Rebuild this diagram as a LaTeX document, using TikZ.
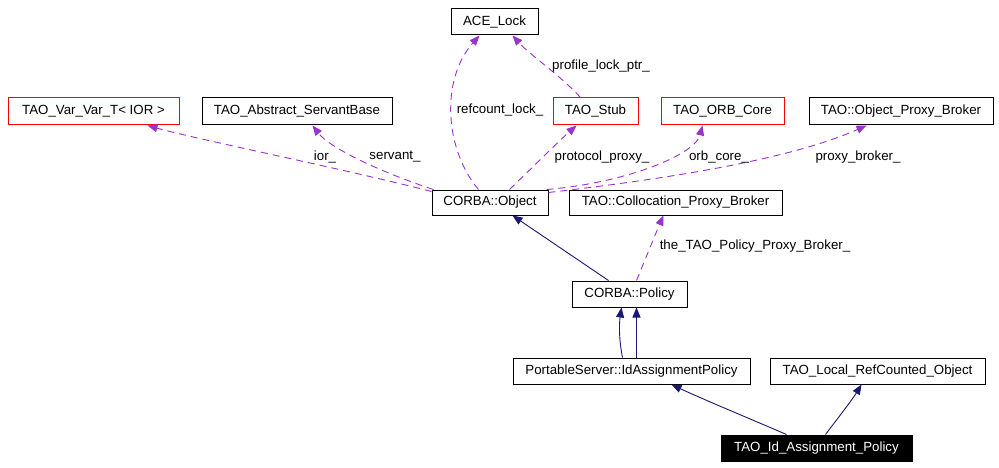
\documentclass[tikz,border=0pt]{standalone}
\usepackage{fontspec}
\setmainfont{Liberation Sans}
\usetikzlibrary{arrows.meta,calc}
\definecolor{edgepurple}{HTML}{9A32CD}
\definecolor{edgenavy}{HTML}{191970}
\begin{document}
\begin{tikzpicture}[x=1pt,y=-1pt,
  every node/.style={font=\fontsize{13.3}{16}\selectfont},
  box/.style={draw=black,line width=1pt,minimum height=26pt,inner sep=0pt,anchor=center},
  redbox/.style={box,draw=red},
  darkbox/.style={box,fill=black,text=white},
  usage/.style={draw=edgepurple,line width=0.9pt,dash pattern=on 7pt off 5pt,
     -{Triangle[length=10pt,width=8pt,fill=edgepurple]}},
  inherit/.style={draw=edgenavy,line width=0.9pt,
     -{Triangle[length=10pt,width=8pt,fill=edgenavy]}},
  elabel/.style={inner sep=0pt,anchor=center}]
\useasboundingbox[fill=white] (0,0) rectangle (999,468);
% nodes
\node[box,minimum width=87pt] (ace) at (494.5,22) {ACE\_Lock};
\node[redbox,minimum width=171pt,minimum height=27pt] (var) at (93.5,111.5) {TAO\_Var\_Var\_T< IOR >};
\node[box,minimum width=190pt,minimum height=27pt] (asb) at (297,111.5) {TAO\_Abstract\_ServantBase};
\node[redbox,minimum width=85pt,minimum height=27pt] (stub) at (595.5,111.5) {TAO\_Stub};
\node[redbox,minimum width=123pt,minimum height=27pt] (orb) at (722.5,111.5) {TAO\_ORB\_Core};
\node[box,minimum width=184pt,minimum height=27pt] (opb) at (901,111.5) {TAO::Object\_Proxy\_Broker};
\node[box,minimum width=116pt,minimum height=25pt] (obj) at (490,202.5) {CORBA::Object};
\node[box,minimum width=213pt,minimum height=25pt] (cpb) at (675.5,202.5) {TAO::Collocation\_Proxy\_Broker};
\node[box,minimum width=115pt] (pol) at (629.5,294) {CORBA::Policy};
\node[box,minimum width=237pt] (psia) at (631.5,371) {PortableServer::IdAssignmentPolicy};
\node[box,minimum width=215pt] (lrc) at (877.5,371) {TAO\_Local\_RefCounted\_Object};
\node[darkbox,minimum width=191pt] (tid) at (816.5,448) {TAO\_Id\_Assignment\_Policy};
% usage edges
\draw[usage] ($(obj.north west)+(0,2)$) .. controls (340,168) and (200,140) .. ($(var.south west)+(140,0)$);
\draw[usage] ($(obj.north west)+(2,0)$) .. controls (380,172) and (330,148) .. ($(asb.south west)+(111,0)$);
\draw[usage] ($(obj.north west)+(47,0)$) .. controls (445,150) and (440,80) .. ($(ace.south west)+(29,0)$);
\draw[usage] ($(stub.north west)+(28,0)$) .. controls (560,75) and (530,55) .. ($(ace.south west)+(62,0)$);
\draw[usage] ($(obj.north west)+(78,0)$) .. controls (535,165) and (560,140) .. ($(stub.south west)+(24,0)$);
\draw[usage] ($(obj.north east)+(-2,0)$) .. controls (625,183) and (695,155) .. ($(orb.south west)+(42,0)$);
\draw[usage] ($(obj.north east)+(0,3)$) .. controls (700,175) and (800,155) .. ($(opb.south west)+(58,0)$);
\draw[usage] ($(pol.north west)+(65,0)$) .. controls (645,260) and (655,235) .. ($(cpb.south west)+(95,0)$);
% inheritance edges
\draw[inherit] ($(pol.north west)+(37,0)$) -- ($(obj.south west)+(81,0)$);
\draw[inherit] ($(psia.north west)+(110,0)$) .. controls (619,340) and (619,325) .. ($(pol.south west)+(50,0)$);
\draw[inherit] ($(psia.north west)+(124,0)$) -- ($(pol.south west)+(65,0)$);
\draw[inherit] ($(tid.north west)+(66,0)$) .. controls (760,423) and (700,398) .. ($(psia.south west)+(159,0)$);
\draw[inherit] ($(tid.north west)+(105,0)$) .. controls (838,418) and (852,400) .. ($(lrc.south west)+(92,0)$);
% labels
\node[elabel] (lior) at (325,157) {ior\_};
\node[elabel] (lserv) at (395,157) {servant\_};
\node[elabel] (lref) at (500,110) {refcount\_lock\_};
\node[elabel] (lprof) at (601,66) {profile\_lock\_ptr\_};
\node[elabel] (lprot) at (602,157) {protocol\_proxy\_};
\node[elabel] (lorb) at (719,157) {orb\_core\_};
\node[elabel] (lprox) at (858,157) {proxy\_broker\_};
\node[elabel] (lpol) at (755,246) {the\_TAO\_Policy\_Proxy\_Broker\_};
\end{tikzpicture}
\end{document}
